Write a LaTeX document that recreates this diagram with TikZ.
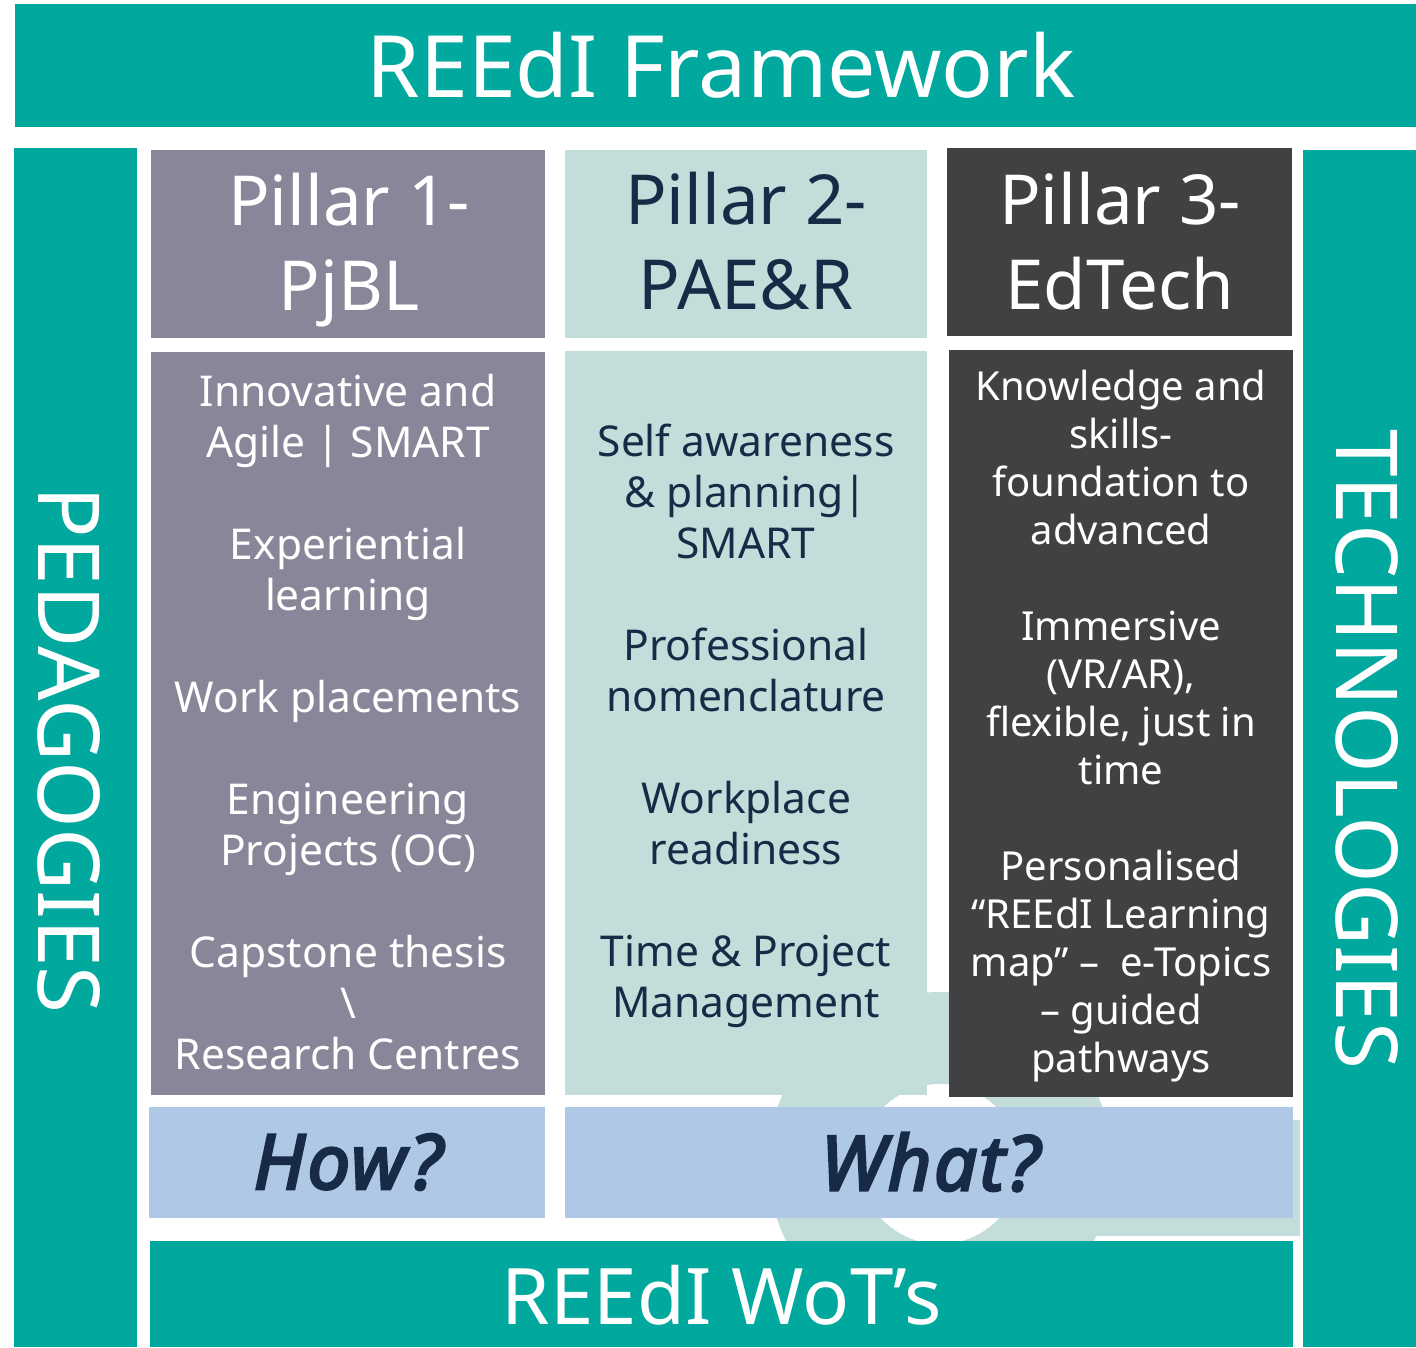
\documentclass[tikz,border=0pt]{standalone}
\usepackage{fontspec}
\setmainfont{Noto Sans}
\newfontfamily\askfont{Noto Sans}[ItalicFeatures={FakeBold=3.5,LetterSpace=3}]
\usepackage{xcolor}
\usetikzlibrary{positioning}

\definecolor{wotteal}{HTML}{00A89E}
\definecolor{pillarone}{HTML}{878799}
\definecolor{pillartwo}{HTML}{C2DDDA}
\definecolor{pillarthree}{HTML}{414042}
\definecolor{askblue}{HTML}{AEC8E5}
\definecolor{navytxt}{HTML}{172B47}

\tikzset{
  titletxt/.style={white, inner sep=0pt, font=\fontsize{86}{100}\selectfont},
  sidetxt/.style={white, inner sep=0pt, rotate=-90, font=\fontsize{85.5}{100}\selectfont},
  headtxt/.style={inner sep=0pt, align=center, font=\fontsize{69}{85}\selectfont},
  bodytxt/.style={inner sep=0pt, align=center, font=\fontsize{42.5}{51}\selectfont},
  smalltxt/.style={inner sep=0pt, align=center, font=\fontsize{40}{48}\selectfont},
  asktxt/.style={navytxt, inner sep=0pt, font=\askfont\fontsize{76}{80}\selectfont\itshape}
}

\begin{document}
\begin{tikzpicture}[x=1pt,y=-1pt]
    \useasboundingbox (0,0) rectangle (1416,1347);
    \fill[white] (0,0) rectangle (1416,1347);

    % Gear behind
    \fill[pillartwo] (940,1164) circle[radius=172pt];
    \fill[pillartwo] (1090,1120) rectangle (1300,1236);
    \fill[white] (940,1164) circle[radius=80pt];

    % Top and side bars
    \fill[wotteal] (15,4) rectangle (1416,127); % framework
    \fill[wotteal] (14,148) rectangle (137,1347); % pedagogies
    \fill[wotteal] (1303,150) rectangle (1416,1347); % technologies
    \fill[wotteal] (150,1241) rectangle (1293,1347); % WoT

    % Pillars
    \fill[pillarone] (151,150) rectangle (545,338);
    \fill[pillarone] (151,352) rectangle (545,1095);
    \fill[pillartwo] (565,150) rectangle (927,338);
    \fill[pillartwo] (565,351) rectangle (927,1095);
    \fill[pillarthree] (947,148) rectangle (1292,336);
    \fill[pillarthree] (949,350) rectangle (1293,1097);

    % How / What
    \fill[askblue] (149,1107) rectangle (545,1218);
    \fill[askblue] (565,1107) rectangle (1293,1218);

    \node[titletxt] (frame) at (721,65) {REEdI Framework};
    \node[sidetxt] (pedag) at (69,750) {PEDAGOGIES};
    \node[sidetxt] (techn) at (1367,749) {TECHNOLOGIES};

    \node[headtxt, white] (p1head) at (349,250) {Pillar 1-\\PjBL};
    \node[headtxt, navytxt] (p2head) at (746,241) {Pillar 2-\\PAE\&R};
    \node[headtxt, white] (p3head) at (1120,241) {Pillar 3-\\EdTech};

    \node[bodytxt, white] (p1body) at (348,722) {Innovative and\\Agile | SMART\\[51pt]
        Experiential\\learning\\[51pt]
        Work placements\\[51pt]
        Engineering\\Projects (OC)\\[51pt]
        Capstone thesis\\\textbackslash\\Research Centres};
    \node[bodytxt, navytxt] (p2body) at (746,726) {Self awareness\\\& planning|\\SMART\\[51pt]
        Professional\\nomenclature\\[51pt]
        Workplace\\readiness\\[51pt]
        Time \& Project\\Management};
    \node[smalltxt, white] (p3body) at (1121,726) {Knowledge and\\skills-\\foundation to\\advanced\\[48pt]
        Immersive\\(VR/AR),\\flexible, just in\\time\\[48pt]
        Personalised\\“REEdI Learning\\map” –~ e-Topics\\– guided\\pathways};

    \node[asktxt] (how) at (348,1162) {How?};
    \node[asktxt] (what) at (930,1162) {What?};
    \node[titletxt, font=\fontsize{78}{90}\selectfont] (wots) at (722,1295) {REEdI WoT’s};
\end{tikzpicture}
\end{document}
